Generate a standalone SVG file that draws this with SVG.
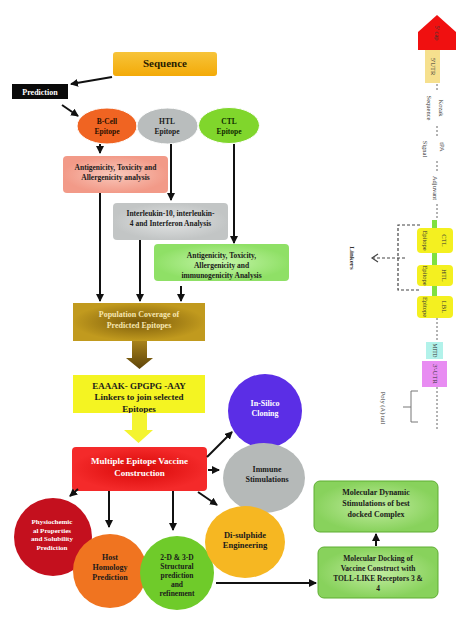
<svg xmlns="http://www.w3.org/2000/svg" width="474" height="621" viewBox="0 0 474 621">
<style>
text{font-family:"Liberation Serif","Times New Roman",serif;font-weight:bold;text-anchor:middle;}
.s7{font-size:7px}.s75{font-size:7.5px}.s8{font-size:8px}.s9{font-size:9px}
.w{fill:#ffffff}.k{fill:#1a1a1a}
.rt{font-weight:normal;font-size:6.5px;fill:#333}
.ln{stroke:#111;stroke-width:2;fill:none}
.dot{stroke:#666;stroke-width:1;stroke-dasharray:2 2;fill:none}
.dsh{stroke:#444;stroke-width:1.2;stroke-dasharray:3 2;fill:none}
</style>
<defs>
<marker id="ah" markerUnits="userSpaceOnUse" markerWidth="8" markerHeight="8" viewBox="0 0 8 8" refX="7" refY="4" orient="auto"><path d="M0,0 L8,4 L0,8 Z" fill="#111"/></marker>
<linearGradient id="gSeq" x1="0" y1="0" x2="0" y2="1"><stop offset="0" stop-color="#f7c43a"/><stop offset="1" stop-color="#f3aa08"/></linearGradient>
<radialGradient id="gSal"><stop offset="0" stop-color="#f9c8bb"/><stop offset="1" stop-color="#f29a88"/></radialGradient>
<radialGradient id="gGray"><stop offset="0" stop-color="#e2e4e4"/><stop offset="1" stop-color="#c2c5c5"/></radialGradient>
<radialGradient id="gGrn"><stop offset="0" stop-color="#c4f5a8"/><stop offset="1" stop-color="#8fe066"/></radialGradient>
<radialGradient id="gPop"><stop offset="0" stop-color="#7a5a0a"/><stop offset="1" stop-color="#c19a1e"/></radialGradient>
<linearGradient id="gArr" x1="0" y1="0" x2="0" y2="1"><stop offset="0" stop-color="#a8821a"/><stop offset="1" stop-color="#5e440a"/></linearGradient>
<radialGradient id="gRed"><stop offset="0" stop-color="#d80808"/><stop offset="1" stop-color="#f42a2a"/></radialGradient>
<radialGradient id="gMol"><stop offset="0" stop-color="#c2eca0"/><stop offset="1" stop-color="#88d25c"/></radialGradient>
<clipPath id="cY"><rect x="73" y="375" width="132" height="38"/></clipPath>
</defs>
<rect width="474" height="621" fill="#ffffff"/>

<g id="sequence">
<rect x="113" y="52" width="104" height="24" rx="3" fill="url(#gSeq)"/>
<text x="165" y="67" style="font-size:11px" fill="#2a2000">Sequence</text>
</g>
<g id="prediction">
<rect x="12" y="84" width="56" height="15" fill="#0a0a0a"/>
<text x="40" y="94.5" class="s8 w">Prediction</text>
</g>
<g id="bcell">
<ellipse cx="107" cy="126" rx="30" ry="18" fill="#f06422" stroke="#fff" stroke-width="1"/>
<text x="107" y="124" class="s75" fill="#2a1000">B-Cell</text><text x="107" y="134" class="s75" fill="#2a1000">Epitope</text>
</g>
<g id="htl">
<ellipse cx="167.5" cy="126" rx="30.5" ry="18" fill="#b9bdbd" stroke="#fff" stroke-width="1"/>
<text x="167" y="124" class="s75 k">HTL</text><text x="167" y="134" class="s75 k">Epitope</text>
</g>
<g id="ctl">
<ellipse cx="229" cy="125.5" rx="30.5" ry="18" fill="#80d62c" stroke="#fff" stroke-width="1"/>
<text x="229" y="124" class="s75" fill="#0f2a00">CTL</text><text x="229" y="134" class="s75" fill="#0f2a00">Epitope</text>
</g>
<g id="antigen1">
<rect x="63" y="156" width="105" height="37" rx="4" fill="url(#gSal)"/>
<text x="115.5" y="170" class="s75 k">Antigenicity, Toxicity and</text>
<text x="115.5" y="180" class="s75 k">Allergenicity analysis</text>
</g>
<g id="interleukin">
<rect x="113" y="203" width="115" height="37" rx="4" fill="url(#gGray)"/>
<text x="170.5" y="216" class="s75 k">Interleukin-10, interleukin-</text>
<text x="170.5" y="226" class="s75 k">4 and Interferon Analysis</text>
</g>
<g id="antigen2">
<rect x="154" y="244" width="135" height="37" rx="4" fill="url(#gGrn)"/>
<text x="221.5" y="258" class="s75 k">Antigenicity, Toxicity,</text>
<text x="221.5" y="268" class="s75 k">Allergenicity and</text>
<text x="221.5" y="278" class="s75 k">immunogenicity Analysis</text>
</g>
<g id="population">
<rect x="73" y="303" width="132" height="38" fill="url(#gPop)"/>
<text x="139" y="317" class="s8" fill="#f6e6b0">Population Coverage of</text>
<text x="139" y="328" class="s8" fill="#f6e6b0">Predicted Epitopes</text>
</g>
<g id="linkers-box">
<rect x="73" y="375" width="132" height="38" fill="#f4f422"/>
<g clip-path="url(#cY)">
<text x="139" y="389" class="s9 k">EAAAK- GPGPG -AAY</text>
<text x="139" y="400" class="s9 k">Linkers to join selected</text>
<text x="139" y="412" class="s9 k">Epitopes</text>
</g>
</g>
<g id="mevc">
<rect x="72" y="447" width="135" height="44" rx="4" fill="url(#gRed)"/>
<text x="139.5" y="464" class="s9 w">Multiple Epitope Vaccine</text>
<text x="139.5" y="476" class="s9 w">Construction</text>
</g>
<g id="insilico">
<circle cx="265" cy="411" r="37" fill="#5b2ee6"/>
<text x="265" y="406" class="s8 w">In-Silico</text>
<text x="265" y="416" class="s8 w">Cloning</text>
</g>
<g id="immune">
<ellipse cx="264" cy="478" rx="41" ry="35" fill="#b5b9b8"/>
<text x="267" y="472" class="s8 k">Immune</text>
<text x="267" y="482" class="s8 k">Stimulations</text>
</g>
<g id="physio">
<circle cx="53" cy="537" r="39" fill="#c4101e"/>
<text x="52" y="524" class="s7 w">Physiochemic</text>
<text x="52" y="532.5" class="s7 w">al Properties</text>
<text x="52" y="541" class="s7 w">and Solubility</text>
<text x="52" y="549.5" class="s7 w">Prediction</text>
</g>
<g id="host">
<circle cx="110" cy="571" r="37" fill="#f07420"/>
<text x="110" y="560" class="s8 k">Host</text>
<text x="110" y="570" class="s8 k">Homology</text>
<text x="110" y="580" class="s8 k">Prediction</text>
</g>
<g id="structural">
<circle cx="177" cy="573" r="37" fill="#6fcb2a"/>
<text x="177" y="560" class="s75 k">2-D &amp; 3-D</text>
<text x="177" y="569" class="s75 k">Structural</text>
<text x="177" y="578" class="s75 k">prediction</text>
<text x="177" y="587" class="s75 k">and</text>
<text x="177" y="596" class="s75 k">refinement</text>
</g>
<g id="disulphide">
<ellipse cx="245" cy="542" rx="40" ry="36" fill="#f6b722"/>
<text x="245" y="538" style="font-size:8.5px" class="k">Di-sulphide</text>
<text x="245" y="548" style="font-size:8.5px" class="k">Engineering</text>
</g>
<g id="md">
<rect x="314" y="481" width="124" height="51" rx="6" fill="url(#gMol)" stroke="#5fae32" stroke-width="1"/>
<text x="376" y="495" class="s8 k">Molecular Dynamic</text>
<text x="376" y="506" class="s8 k">Stimulations of best</text>
<text x="376" y="517" class="s8 k">docked Complex</text>
</g>
<g id="docking">
<rect x="318" y="547" width="120" height="51" rx="6" fill="url(#gMol)" stroke="#5fae32" stroke-width="1"/>
<text x="378" y="561" class="s75 k">Molecular Docking of</text>
<text x="378" y="571" class="s75 k">Vaccine Construct with</text>
<text x="378" y="581" class="s75 k">TOLL-LIKE Receptors 3 &amp;</text>
<text x="378" y="591" class="s75 k">4</text>
</g>

<g id="connectors">
<line x1="112" y1="77" x2="71" y2="84" class="ln" marker-end="url(#ah)"/>
<line x1="62" y1="105" x2="78" y2="116" class="ln" marker-end="url(#ah)"/>
<line x1="100" y1="144" x2="100" y2="153" class="ln" marker-end="url(#ah)"/>
<line x1="171" y1="144" x2="171" y2="200" class="ln" marker-end="url(#ah)"/>
<line x1="234" y1="144" x2="234" y2="243" class="ln" marker-end="url(#ah)"/>
<line x1="100" y1="193" x2="100" y2="301" class="ln" marker-end="url(#ah)"/>
<line x1="140" y1="240" x2="140" y2="301" class="ln" marker-end="url(#ah)"/>
<line x1="181" y1="286" x2="181" y2="301" class="ln" marker-end="url(#ah)"/>
<polygon points="132,341 147,341 147,358 153,358 139.5,369 126,358 132,358" fill="url(#gArr)"/>
<polygon points="132,413 147,413 147,430 153,430 138.5,443 124,430 132,430" fill="#f4f430"/>
<line x1="207" y1="457" x2="232" y2="432" class="ln" marker-end="url(#ah)"/>
<line x1="208" y1="470" x2="219" y2="470" class="ln" marker-end="url(#ah)"/>
<line x1="198" y1="492" x2="217" y2="505" class="ln" marker-end="url(#ah)"/>
<line x1="78" y1="489" x2="70" y2="496" class="ln" marker-end="url(#ah)"/>
<line x1="109" y1="491" x2="109" y2="527" class="ln" marker-end="url(#ah)"/>
<line x1="173" y1="491" x2="173" y2="530" class="ln" marker-end="url(#ah)"/>
<line x1="216" y1="583" x2="316" y2="583" class="ln" marker-end="url(#ah)"/>
<line x1="376" y1="546" x2="376" y2="534" class="ln" marker-end="url(#ah)"/>
</g>

<g id="mrna-construct">
<polygon points="418,50 418,32 437,15 456,32 456,50" fill="#f01010"/>
<text class="rt" transform="translate(437,33) rotate(90)" y="2">5' cap</text>
<rect x="425" y="50" width="15" height="33" fill="#f6e08e"/>
<text class="rt" transform="translate(432.5,66.5) rotate(90)" y="2">5'UTR</text>
<path d="M437,84 V92 M437,126 V136 M437,161 V172 M437,204 V220 M437,318 V342 M437,387 V430" class="dot"/>
<text class="rt" transform="translate(441,108) rotate(90)" y="2">Kozak</text>
<text class="rt" transform="translate(429,108) rotate(90)" y="2">Sequence</text>
<text class="rt" transform="translate(442,147) rotate(90)" y="2">tPA</text>
<text class="rt" transform="translate(425,149) rotate(90)" y="2">Signal</text>
<text class="rt" transform="translate(435,188) rotate(90)" y="2">Adjuvant</text>
<rect x="432" y="220" width="5" height="8" fill="#80e040"/>
<rect x="432" y="253" width="5" height="12" fill="#80e040"/>
<rect x="432" y="286" width="5" height="10" fill="#80e040"/>
<rect x="417" y="228" width="36" height="25" rx="4" fill="#f4f020"/>
<text class="rt" transform="translate(444,240.5) rotate(90)" y="2">CTL</text>
<text class="rt" transform="translate(425,240.5) rotate(90)" y="2">Epitope</text>
<rect x="417" y="265" width="36" height="21" rx="4" fill="#f4f020"/>
<text class="rt" transform="translate(444,275.5) rotate(90)" y="2">HTL</text>
<text class="rt" transform="translate(425,275.5) rotate(90)" y="2">Epitope</text>
<rect x="417" y="296" width="36" height="22" rx="4" fill="#f4f020"/>
<text class="rt" transform="translate(444,307) rotate(90)" y="2">LBL</text>
<text class="rt" transform="translate(425,307) rotate(90)" y="2">Epitope</text>
<rect x="426" y="342" width="17" height="17" fill="#b2f2ea"/>
<text class="rt" style="font-size:5.5px" transform="translate(434.5,350.5) rotate(90)" y="2">MITD</text>
<rect x="422" y="361" width="25" height="26" fill="#e88cf2"/>
<text class="rt" transform="translate(435,374) rotate(90)" y="2">3'-UTR</text>
<path d="M418,391 H411 V422 H418 M411,407 H403" stroke="#777" stroke-width="1" fill="none"/>
<text class="rt" transform="translate(383,408) rotate(90)" y="2">Poly (A) tail</text>
<path d="M420,225 H398 V290 H420 M405,258 H373" class="dsh"/>
<path d="M378,254 L372,258 L378,262" stroke="#444" stroke-width="1.2" fill="none"/>
<text class="rt" style="font-size:7px;font-weight:bold" transform="translate(352,258) rotate(90)" y="2">Linkers</text>
</g>
</svg>
